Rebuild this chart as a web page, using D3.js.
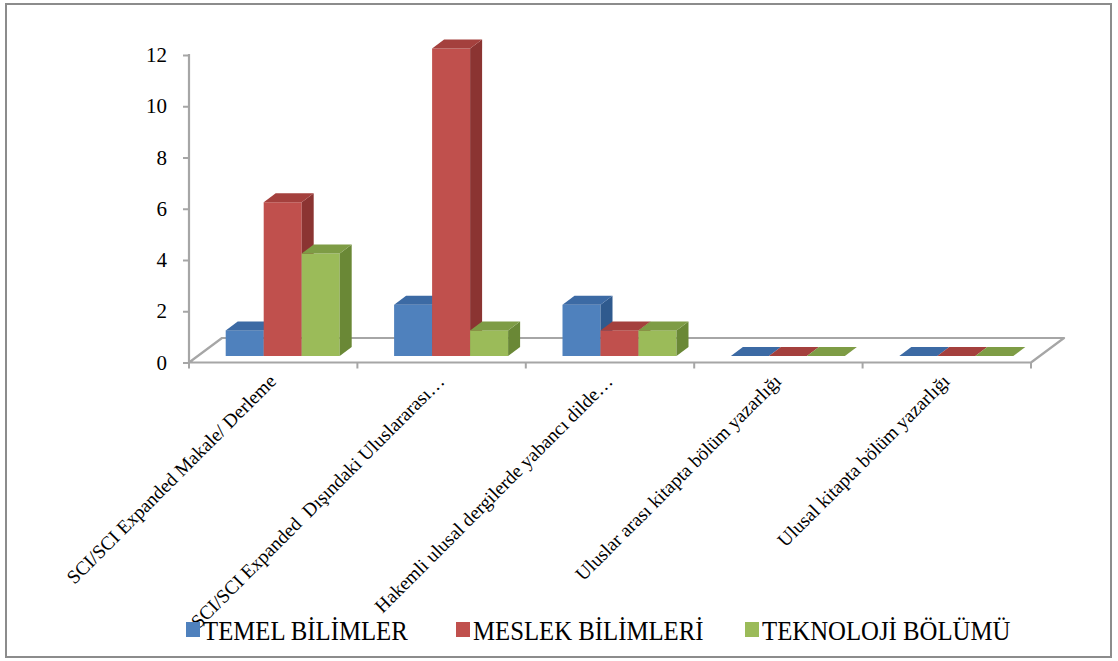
<!DOCTYPE html>
<html>
<head>
<meta charset="utf-8">
<script src="https://cdn.jsdelivr.net/npm/d3@7"></script>
<style>
  html, body { margin: 0; padding: 0; background: #fff; }
  svg { display: block; }
  text { font-family: "Liberation Serif", "DejaVu Serif", serif; }
</style>
</head>
<body>
<svg id="chart" width="1118" height="661"></svg>
<script>
// ---- data ----
const categories = [
  "SCI/SCI Expanded Makale/ Derleme",
  "SCI/SCI Expanded  Dışındaki Uluslararası…",
  "Hakemli ulusal dergilerde yabancı dilde…",
  "Uluslar arası kitapta bölüm yazarlığı",
  "Ulusal kitapta bölüm yazarlığı"
];
const seriesNames = ["TEMEL BİLİMLER", "MESLEK BİLİMLERİ", "TEKNOLOJİ BÖLÜMÜ"];
const temelBilimler   = [1, 2, 2, 0, 0];
const meslekBilimleri = [6, 12, 1, 0, 0];
const teknolojiBolumu = [4, 1, 1, 0, 0];
const yTicks = [0, 2, 4, 6, 8, 10, 12];

const seriesValues = [temelBilimler, meslekBilimleri, teknolojiBolumu];
const frontColors = ["#4F81BD", "#C0504D", "#9BBB59"];
const topColors   = ["#3C6AA4", "#A4403D", "#7E9C45"];
const sideColors  = ["#2F5A8E", "#8B3432", "#6A8836"];

const svg = d3.select("#chart");

// outer border
svg.append("rect").attr("x", 6).attr("y", 4).attr("width", 1105).attr("height", 653)
  .attr("fill", "none").attr("stroke", "#8c8c8c").attr("stroke-width", 2);

// scales
const x = d3.scaleBand().domain(categories).range([189, 1031]).padding(0);
const y = d3.scaleLinear().domain([0, 12]).range([362.5, 55]);
const groupW = 114;
const xs = d3.scaleBand().domain(seriesNames).range([0, groupW]).padding(0);

// floor depth
const fdx = 33, fdy = -24.5;
const floorY = y(0);
const x0 = x.range()[0], x1 = x.range()[1];

// floor
svg.append("path")
  .attr("d", `M${x0},${floorY} L${x1},${floorY} L${x1 + fdx},${floorY + fdy} L${x0 + fdx},${floorY + fdy} Z`)
  .attr("fill", "#fff").attr("stroke", "#a6a6a6").attr("stroke-width", 2.2).attr("stroke-linejoin", "round");

// category ticks (downwards)
const tickXs = categories.map(c => x(c)).concat([x1]);
svg.append("g").selectAll("line").data(tickXs).join("line")
  .attr("x1", d => d).attr("x2", d => d)
  .attr("y1", floorY).attr("y2", floorY + 6)
  .attr("stroke", "#a6a6a6").attr("stroke-width", 2);

// y axis
const yAxis = d3.axisLeft(y).tickValues(yTicks).tickSize(6).tickPadding(16).tickFormat(d3.format("d"));
const gy = svg.append("g").attr("transform", `translate(${x0},0)`).call(yAxis);
gy.select(".domain").remove();
gy.selectAll(".tick line").attr("stroke", "#a6a6a6").attr("stroke-width", 2);
gy.selectAll(".tick text").attr("font-size", 21).attr("fill", "#000")
  .style("font-family", '"Liberation Serif", serif');
svg.append("line").attr("x1", x0).attr("x2", x0).attr("y1", y(12) - 1).attr("y2", floorY)
  .attr("stroke", "#a6a6a6").attr("stroke-width", 2.2);

// bars (3D)
const frontShiftX = 9.5, frontShiftY = -6.5;
const bdx = 12, bdy = -9;
const barsG = svg.append("g");
categories.forEach((c, ci) => {
  seriesNames.forEach((s, si) => {
    const v = seriesValues[si][ci];
    const bx = x(c) + (x.bandwidth() - groupW) / 2 + frontShiftX + xs(s);
    const bw = xs.bandwidth();
    const yb = y(0) + frontShiftY;
    const yt = y(v) + frontShiftY;
    const g = barsG.append("g");
    if (v > 0) {
      g.append("rect").attr("x", bx).attr("y", yt).attr("width", bw).attr("height", yb - yt)
        .attr("fill", frontColors[si]);
      g.append("path")
        .attr("d", `M${bx + bw},${yt} L${bx + bw + bdx},${yt + bdy} L${bx + bw + bdx},${yb + bdy} L${bx + bw},${yb} Z`)
        .attr("fill", sideColors[si]);
    }
    g.append("path")
      .attr("d", `M${bx},${yt} L${bx + bw},${yt} L${bx + bw + bdx},${yt + bdy} L${bx + bdx},${yt + bdy} Z`)
      .attr("fill", topColors[si]);
  });
});

// category labels
svg.append("g").selectAll("text").data(categories).join("text")
  .attr("transform", d => `translate(${x(d) + x.bandwidth() / 2 + 4},${floorY + 20}) rotate(-45)`)
  .attr("text-anchor", "end")
  .attr("font-size", 19.3)
  .attr("fill", "#000")
  .style("white-space", "pre")
  .text(d => d);

// legend
const legendX = [186, 456, 745];
const legend = svg.append("g");
seriesNames.forEach((s, i) => {
  legend.append("rect").attr("x", legendX[i]).attr("y", 622).attr("width", 14).attr("height", 15)
    .attr("fill", frontColors[i]);
  legend.append("text")
    .attr("transform", `translate(${legendX[i] + 17},640) scale(0.885,1)`)
    .attr("font-size", 28).attr("fill", "#000")
    .text(s);
});
</script>
</body>
</html>
